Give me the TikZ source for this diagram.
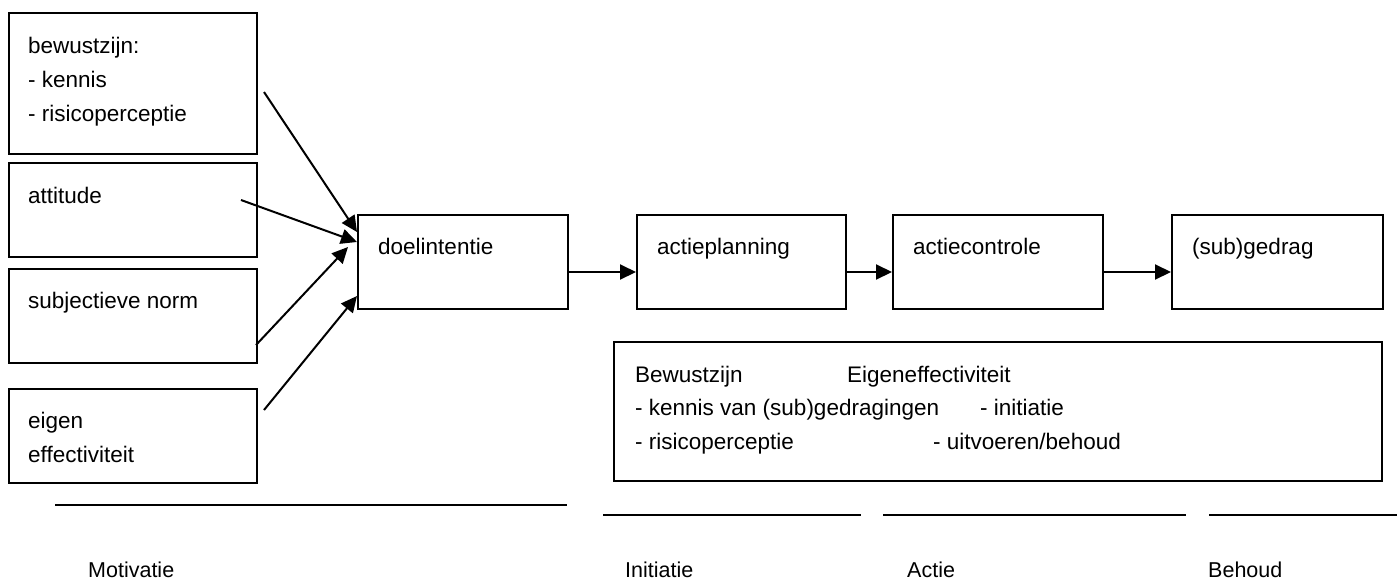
\documentclass[tikz,border=0pt]{standalone}
\usepackage{fontspec}
\setmainfont{Liberation Sans}
\usetikzlibrary{arrows.meta}
\begin{document}
\begin{tikzpicture}[x=1pt,y=-1pt,
  box/.style={draw=black,line width=2pt,rectangle,anchor=north west,inner sep=0pt,fill=white},
  txt/.style={anchor=base west,inner sep=0pt,font=\fontsize{22.5}{34}\selectfont},
  lbl/.style={anchor=base west,inner sep=0pt,font=\fontsize{21.5}{30}\selectfont},
  arr/.style={line width=2pt,-{Triangle[length=16pt,width=15pt]}},
  rule/.style={line width=2pt}]
\useasboundingbox (0,0) rectangle (1397,579);
% left boxes
\node[box,minimum width=248pt,minimum height=141pt] (b1) at (8,12) {};
\node[box,minimum width=248pt,minimum height=94pt] (b2) at (8,162) {};
\node[box,minimum width=248pt,minimum height=94pt] (b3) at (8,268) {};
\node[box,minimum width=248pt,minimum height=94pt] (b4) at (8,388) {};
% chain boxes
\node[box,minimum width=210pt,minimum height=94pt] (doel) at (357,214) {};
\node[box,minimum width=209pt,minimum height=94pt] (plan) at (636,214) {};
\node[box,minimum width=210pt,minimum height=94pt] (ctrl) at (892,214) {};
\node[box,minimum width=211pt,minimum height=94pt] (gedrag) at (1171,214) {};
% bottom box
\node[box,minimum width=768pt,minimum height=139pt] (info) at (613,341) {};
% texts
\node[txt] (t1a) at (28,53) {bewustzijn:};
\node[txt] (t1b) at (28,87) {- kennis};
\node[txt] (t1c) at (28,121) {- risicoperceptie};
\node[txt] (t2) at (28,203) {attitude};
\node[txt] (t3) at (28,308) {subjectieve norm};
\node[txt] (t4a) at (28,428) {eigen};
\node[txt] (t4b) at (28,462) {effectiviteit};
\node[txt] (td) at (378,254) {doelintentie};
\node[txt] (tp) at (657,254) {actieplanning};
\node[txt] (tc) at (913,254) {actiecontrole};
\node[txt] (tg) at (1192,254) {(sub)gedrag};
\node[txt] (i1) at (635,382) {Bewustzijn};
\node[txt] (i2) at (847,382) {Eigeneffectiviteit};
\node[txt] (i3) at (635,415) {- kennis van (sub)gedragingen};
\node[txt] (i4) at (980,415) {- initiatie};
\node[txt] (i5) at (635,449) {- risicoperceptie};
\node[txt] (i6) at (933,449) {- uitvoeren/behoud};
% arrow ends
\coordinate (s1) at (264,92);
\coordinate (e1) at (357,232);
\coordinate (s2) at (241,200);
\coordinate (e2) at (357,242);
\coordinate (s3) at (256,345);
\coordinate (e3) at (348,247);
\coordinate (s4) at (264,410);
\coordinate (e4) at (357,296);
\draw[arr] (s1) -- (e1);
\draw[arr] (s2) -- (e2);
\draw[arr] (s3) -- (e3);
\draw[arr] (s4) -- (e4);
\draw[arr] ([yshift=-10pt]doel.east) -- ([yshift=-10pt]plan.west);
\draw[arr] ([yshift=-10pt]plan.east) -- ([yshift=-10pt]ctrl.west);
\draw[arr] ([yshift=-10pt]ctrl.east) -- ([yshift=-10pt]gedrag.west);
% phase rules
\coordinate (r1a) at (55,505); \coordinate (r1b) at (567,505);
\coordinate (r2a) at (603,515); \coordinate (r2b) at (861,515);
\coordinate (r3a) at (883,515); \coordinate (r3b) at (1186,515);
\coordinate (r4a) at (1209,515); \coordinate (r4b) at (1397,515);
\draw[rule] (r1a) -- (r1b);
\draw[rule] (r2a) -- (r2b);
\draw[rule] (r3a) -- (r3b);
\draw[rule] (r4a) -- (r4b);
% phase labels
\node[lbl] (l1) at (88,577) {Motivatie};
\node[lbl] (l2) at (625,577) {Initiatie};
\node[lbl] (l3) at (907,577) {Actie};
\node[lbl] (l4) at (1208,577) {Behoud};
\end{tikzpicture}
\end{document}
